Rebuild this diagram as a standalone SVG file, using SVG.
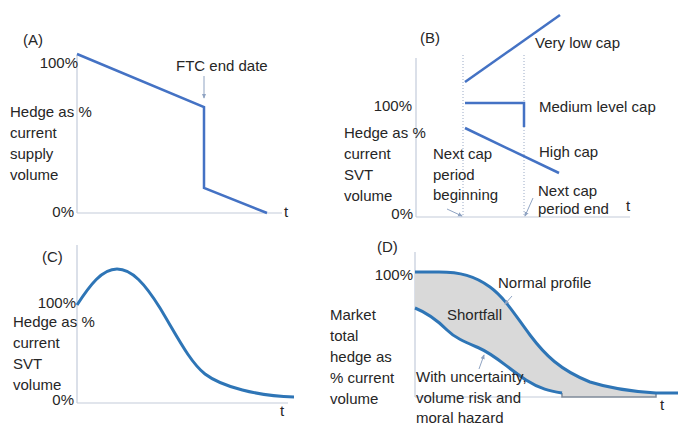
<svg xmlns="http://www.w3.org/2000/svg" width="678" height="426" viewBox="0 0 678 426">
<defs>
<style>
text{font-family:"Liberation Sans",Arial,sans-serif;font-size:15px;fill:#262626}
.e{text-anchor:end}
.ax{stroke:#C3CCDA;stroke-width:1.2;fill:none}
.dl{stroke:#4472C4;stroke-width:2.5;fill:none}
.cv{stroke:#2E75B6;stroke-width:3;fill:none}
.dot{stroke:#9AAAC6;stroke-width:1;stroke-dasharray:1 2;fill:none}
.ar{stroke:#8FA3C2;stroke-width:1;fill:none}
</style>
<marker id="ah" viewBox="0 0 6 6" refX="5" refY="3" markerWidth="5" markerHeight="5" orient="auto">
<path d="M0,0.5 L6,3 L0,5.5 z" fill="#8FA3C2"/>
</marker>
</defs>
<rect width="678" height="426" fill="#ffffff"/>

<g id="panelA">
<line class="ax" x1="77" y1="55" x2="77" y2="213"/>
<line class="ax" x1="77" y1="213" x2="282" y2="213"/>
<polyline class="dl" points="77,54 204,107 204,188 267,213"/>
<text x="23" y="45">(A)</text>
<text class="e" x="78" y="68">100%</text>
<text class="e" x="74" y="217">0%</text>
<text x="10" y="117">Hedge as %</text>
<text x="10" y="138">current</text>
<text x="10" y="159">supply</text>
<text x="10" y="180">volume</text>
<text x="176" y="71">FTC end date</text>
<text x="284" y="217">t</text>
</g>

<g id="panelB">
<line class="ax" x1="416" y1="58" x2="416" y2="217"/>
<line class="ax" x1="416" y1="217" x2="630" y2="217"/>
<line class="dot" x1="463" y1="55" x2="463" y2="217"/>
<line class="dot" x1="524" y1="55" x2="524" y2="217"/>
<line class="dl" x1="465" y1="82" x2="560" y2="15"/>
<polyline class="dl" points="465,103 524,103 524,127"/>
<line class="dl" x1="465" y1="128" x2="559" y2="173"/>
<text x="420" y="43">(B)</text>
<text x="535" y="48">Very low cap</text>
<text x="539" y="112">Medium level cap</text>
<text x="539" y="157">High cap</text>
<text class="e" x="412" y="111">100%</text>
<text class="e" x="413" y="219">0%</text>
<text x="344" y="138">Hedge as %</text>
<text x="344" y="159">current</text>
<text x="344" y="180">SVT</text>
<text x="344" y="201">volume</text>
<text x="433" y="159">Next cap</text>
<text x="433" y="180">period</text>
<text x="433" y="200">beginning</text>
<text x="538" y="196">Next cap</text>
<text x="538" y="214">period end</text>
<text x="626" y="211">t</text>
</g>

<g id="panelC">
<line class="ax" x1="77" y1="245" x2="77" y2="403"/>
<line class="ax" x1="77" y1="403" x2="288" y2="403"/>
<path class="cv" d="M77,305 C90,285 102,269 117,269 C132,269 145,284 160,308 C178,338 190,362 205,374 C222,387 258,396 294,397"/>
<text x="42" y="262">(C)</text>
<text class="e" x="76" y="308">100%</text>
<text class="e" x="74" y="405">0%</text>
<text x="13" y="327">Hedge as %</text>
<text x="13" y="348">current</text>
<text x="13" y="369">SVT</text>
<text x="13" y="390">volume</text>
<text x="280" y="416">t</text>
</g>

<g id="panelD">
<line class="ax" x1="415" y1="252" x2="415" y2="397"/>
<line class="ax" x1="415" y1="397" x2="562" y2="397"/>
<path d="M415,272 L439,272 C460,272 475,276 490,287 C505,298 515,315 530,335 C545,355 560,370 590,382 C615,390 640,392 656,393 L656,397 L562,397 L562,393 C550,391 540,389 526,380 C505,366 495,355 479,348 C465,342 455,338 447,330 C435,318 425,312 415,308 Z" fill="#D9D9D9" stroke="none"/>
<polyline points="562,393 562,397 656,397 656,393" fill="none" stroke="#7F8A99" stroke-width="1.5"/>
<path class="cv" d="M415,272 L439,272 C460,272 475,276 490,287 C505,298 515,315 530,335 C545,355 560,370 590,382 C615,390 640,392 656,393 L678,393"/>
<path class="cv" d="M415,308 C425,312 435,318 447,330 C455,338 465,342 479,348 C495,355 505,366 526,380 C540,389 550,391 562,393"/>
<text x="377" y="252">(D)</text>
<text class="e" x="413" y="280">100%</text>
<text x="498" y="288">Normal profile</text>
<text x="447" y="320">Shortfall</text>
<text x="416" y="382">With uncertainty,</text>
<text x="416" y="403">volume risk and</text>
<text x="416" y="423">moral hazard</text>
<text x="330" y="320">Market</text>
<text x="330" y="341">total</text>
<text x="330" y="362">hedge as</text>
<text x="330" y="383">% current</text>
<text x="330" y="404">volume</text>
<text x="660" y="410">t</text>
</g>

<g id="connectors">
<line class="ar" x1="204" y1="76" x2="204" y2="98" marker-end="url(#ah)"/>
<line class="ar" x1="447" y1="209" x2="462" y2="216" marker-end="url(#ah)"/>
<line class="ar" x1="533" y1="198" x2="525" y2="216" marker-end="url(#ah)"/>
<line class="ar" x1="512" y1="296" x2="505" y2="304" marker-end="url(#ah)"/>
<line class="ar" x1="479" y1="369" x2="484" y2="355" marker-end="url(#ah)"/>
</g>
</svg>
